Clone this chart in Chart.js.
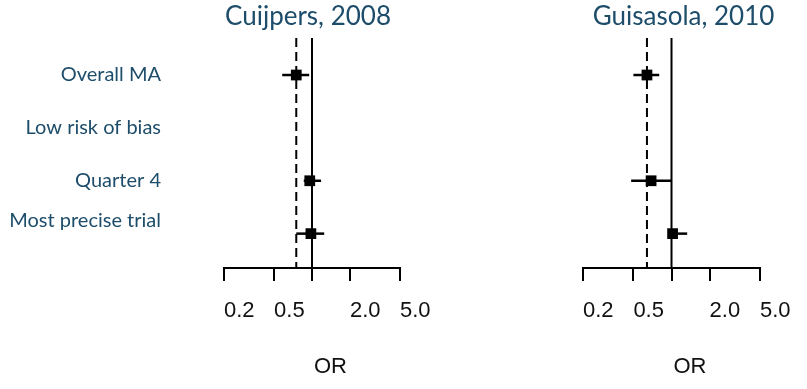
<!DOCTYPE html>
<html>
<head>
<meta charset="utf-8">
<script src="https://cdn.jsdelivr.net/npm/chart.js@4.4.1/dist/chart.umd.min.js"></script>
<style>
  html, body { margin: 0; padding: 0; background: #fff; overflow: hidden; }
  #wrap { position: relative; width: 807px; height: 389px; overflow: hidden; }
  #left { position: absolute; left: 0; top: 0; }
  #right { position: absolute; left: 520px; top: 0; }
</style>
</head>
<body>
<div id="wrap">
  <canvas id="left" width="480" height="389"></canvas>
  <canvas id="right" width="320" height="389"></canvas>
</div>
<script>
// Rows of the forest plot (top to bottom)
const rowLabels = ['Overall MA', 'Low risk of bias', 'Quarter 4', 'Most precise trial'];

// Odds-ratio axis
const orTicks = [0.2, 0.5, 1, 2, 5];
const orTickLabels = ['0.2', '0.5', '', '2.0', '5.0'];

// Cuijpers, 2008 — point estimates and 95% CI (null = not reported)
const cuijpersTitle = 'Cuijpers, 2008';
const cuijpersOR    = [0.75, null, 0.96, 0.98];
const cuijpersLower = [0.58, null, 0.86, 0.75];
const cuijpersUpper = [0.95, null, 1.18, 1.25];

// Guisasola, 2010
const guisasolaTitle = 'Guisasola, 2010';
const guisasolaOR    = [0.64, null, 0.69, 1.02];
const guisasolaLower = [0.50, null, 0.48, 1.00];
const guisasolaUpper = [0.80, null, 1.00, 1.33];

const TEXT_BLUE = '#1d4d6a';
const Y_MIN = 0.3, Y_MAX = 4.65;

// Titles above each panel and the "OR" caption under the axis
const panelText = {
  id: 'panelText',
  afterDraw(chart, args, opts) {
    const { ctx, chartArea, scales: { x } } = chart;
    ctx.save();
    ctx.fillStyle = TEXT_BLUE;
    ctx.font = '26px Lato';
    ctx.textAlign = 'center';
    ctx.textBaseline = 'alphabetic';
    ctx.fillText(opts.title, (chartArea.left + chartArea.right) / 2 + opts.titleShift, 25);
    ctx.fillStyle = '#111';
    ctx.font = '22px "Liberation Sans"';
    ctx.textAlign = 'left';
    ctx.fillText('OR', x.getPixelForValue(1) + 2, 373);
    ctx.restore();
  }
};

function makePanel(canvasId, title, or, lower, upper, showLabels, pad, titleShift) {
  const datasets = [];
  // line of no effect
  datasets.push({
    data: [{ x: 1, y: Y_MIN }, { x: 1, y: Y_MAX }],
    showLine: true, borderColor: '#000', borderWidth: 2, pointRadius: 0
  });
  // pooled estimate reference (dashed)
  datasets.push({
    data: [{ x: or[0], y: Y_MIN }, { x: or[0], y: Y_MAX }],
    showLine: true, borderColor: '#000', borderWidth: 2, borderDash: [9, 5], pointRadius: 0
  });
  // confidence intervals
  or.forEach((v, i) => {
    if (v == null) return;
    datasets.push({
      data: [{ x: lower[i], y: i + 1 }, { x: upper[i], y: i + 1 }],
      showLine: true, borderColor: '#000', borderWidth: 2.5, pointRadius: 0
    });
  });
  // point estimates
  datasets.push({
    data: or.map((v, i) => v == null ? null : { x: v, y: i + 1 }).filter(d => d),
    pointStyle: 'rect', pointRadius: 7.6, pointHoverRadius: 7.6,
    backgroundColor: '#000', borderColor: '#000', borderWidth: 0
  });

  return new Chart(document.getElementById(canvasId), {
    type: 'scatter',
    data: { datasets },
    options: {
      responsive: false,
      devicePixelRatio: 1,
      animation: false,
      events: [],
      layout: { padding: pad },
      plugins: {
        legend: { display: false },
        tooltip: { enabled: false },
        panelText: { title, titleShift }
      },
      scales: {
        x: {
          type: 'logarithmic',
          min: 0.2, max: 5,
          afterBuildTicks: s => { s.ticks = orTicks.map(v => ({ value: v })); },
          afterFit: s => { s.height = 121; },
          grid: { drawOnChartArea: false, drawTicks: true, tickLength: 13, color: '#000', lineWidth: 2 },
          border: { display: true, color: '#000', width: 2 },
          ticks: {
            align: 'start', padding: 17, color: '#111', autoSkip: false, maxRotation: 0,
            font: { family: 'Liberation Sans', size: 22 },
            callback: (v, i) => orTickLabels[i]
          }
        },
        y: {
          type: 'linear',
          reverse: true,
          min: Y_MIN, max: Y_MAX,
          display: showLabels,
          afterBuildTicks: s => { s.ticks = rowLabels.map((l, i) => ({ value: i === 3 ? 3.75 : i + 1 })); },
          afterFit: s => {
            if (!showLabels) return;
            s.width = 224;
            s.paddingTop = 0;
            s.paddingBottom = 0;
          },
          grid: { display: false, drawTicks: false },
          border: { display: false },
          ticks: {
            padding: 63, color: TEXT_BLUE, autoSkip: false,
            font: { family: 'Lato', size: 20 },
            callback: (v, i) => rowLabels[i]
          }
        }
      }
    },
    plugins: [panelText]
  });
}

makePanel('left', cuijpersTitle, cuijpersOR, cuijpersLower, cuijpersUpper, true,
  { top: 38, right: 80, bottom: 0, left: 0 }, -4);
makePanel('right', guisasolaTitle, guisasolaOR, guisasolaLower, guisasolaUpper, false,
  { top: 38, right: 80, bottom: 0, left: 63 }, 12);
</script>
</body>
</html>
